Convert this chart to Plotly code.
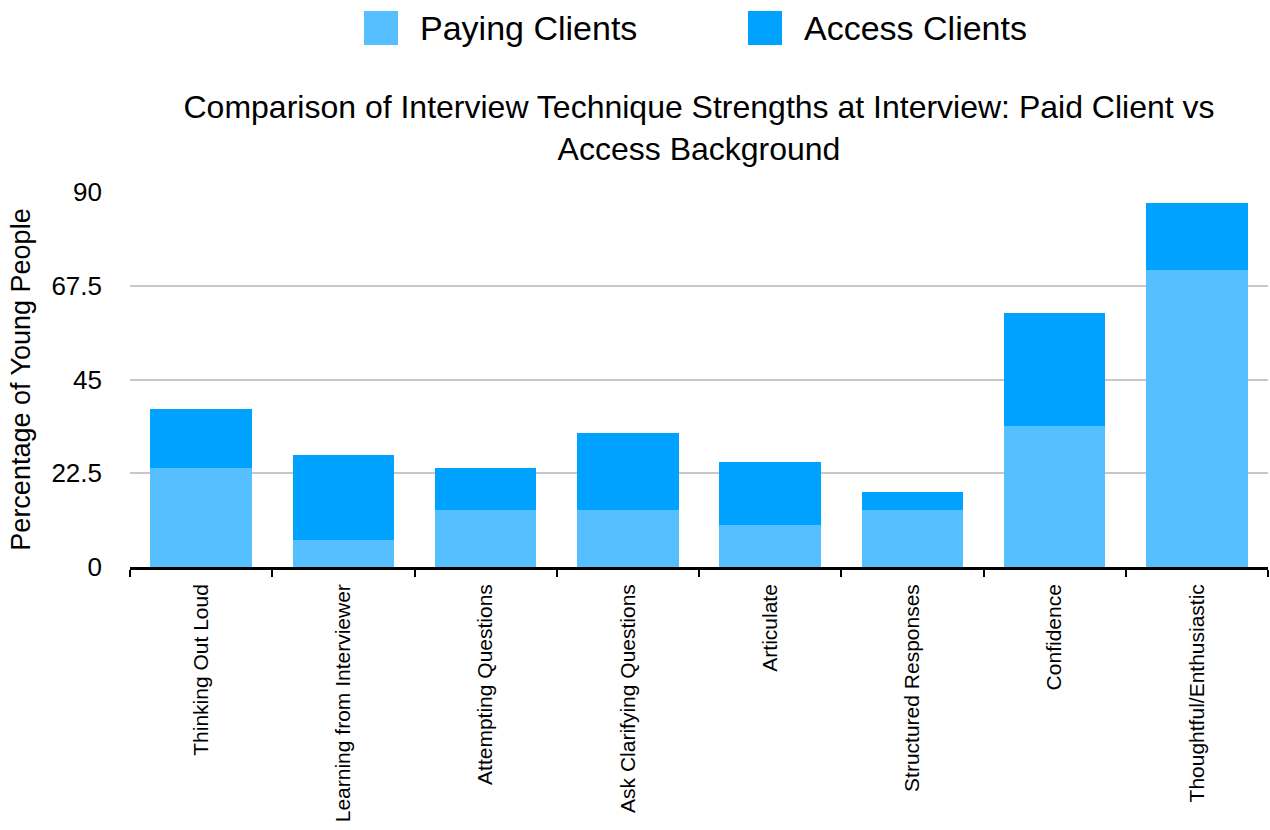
import plotly.graph_objects as go

categories = [
    "Thinking Out Loud",
    "Learning from Interviewer",
    "Attempting Questions",
    "Ask Clarifying Questions",
    "Articulate",
    "Structured Responses",
    "Confidence",
    "Thoughtful/Enthusiastic",
]
paying_clients = [23.7, 6.6, 13.6, 13.6, 10.0, 13.6, 33.9, 71.2]
access_clients = [14.2, 20.4, 10.1, 18.5, 15.1, 4.3, 27.0, 16.1]

y_ticks = [0, 22.5, 45, 67.5, 90]
y_tick_labels = ["0", "22.5", "45", "67.5", "90"]

PAYING_COLOR = "#56BFFF"
ACCESS_COLOR = "#00A2FF"
FONT = "Liberation Sans, Arial, Helvetica, sans-serif"

fig = go.Figure()
fig.add_trace(go.Bar(x=categories, y=paying_clients, name="Paying Clients",
                     marker=dict(color=PAYING_COLOR, line=dict(width=0))))
fig.add_trace(go.Bar(x=categories, y=access_clients, name="Access Clients",
                     marker=dict(color=ACCESS_COLOR, line=dict(width=0))))

W, H = 1270, 830
L, R, T, B = 130, 2, 192, 263

fig.update_layout(
    width=W, height=H,
    barmode="stack",
    bargap=0.285,
    showlegend=False,
    plot_bgcolor="white",
    paper_bgcolor="white",
    margin=dict(l=L, r=R, t=T, b=B, autoexpand=False),
    font=dict(family=FONT, color="#000000"),
    title=dict(
        text="Comparison of Interview Technique Strengths at Interview: Paid Client vs<br>Access Background",
        font=dict(size=32, family=FONT, color="#000000"),
        x=0.5, xref="paper", xanchor="center",
        y=1 - 118 / H, yref="container", yanchor="top",
    ),
    xaxis=dict(
        tickangle=-90,
        tickfont=dict(size=21, family=FONT, color="#000000"),
        showline=True, linecolor="#000000", linewidth=2.5,
        ticks="outside", tickson="boundaries", ticklen=7, tickwidth=2,
        tickcolor="#000000",
        ticklabelstandoff=6,
        showgrid=False,
    ),
    yaxis=dict(
        range=[0, 90],
        tickvals=y_ticks, ticktext=y_tick_labels,
        tickfont=dict(size=26, family=FONT, color="#000000"),
        showgrid=True, gridcolor="#C8C8C8", gridwidth=1.5,
        zeroline=False, showline=False, ticks="",
        ticklabelstandoff=27,
        title=dict(text="Percentage of Young People",
                   font=dict(size=27, family=FONT, color="#000000"),
                   standoff=12),
    ),
)

# Legend drawn with large swatches above the title
legend_items = [("Paying Clients", PAYING_COLOR, 364), ("Access Clients", ACCESS_COLOR, 748)]
for label, color, x0 in legend_items:
    fig.add_shape(type="rect", xref="paper", yref="paper",
                  x0=(x0 - L) / (W - L - R), x1=(x0 + 34 - L) / (W - L - R),
                  y0=(H - B - 45) / (H - T - B), y1=(H - B - 11) / (H - T - B),
                  fillcolor=color, line=dict(width=0), layer="above")
    fig.add_annotation(text=label, xref="paper", yref="paper",
                       x=(x0 + 54 - L) / (W - L - R), y=(H - B - 28) / (H - T - B),
                       xanchor="left", yanchor="middle", showarrow=False,
                       font=dict(size=34, family=FONT, color="#000000"))

fig.write_html("out.html")
